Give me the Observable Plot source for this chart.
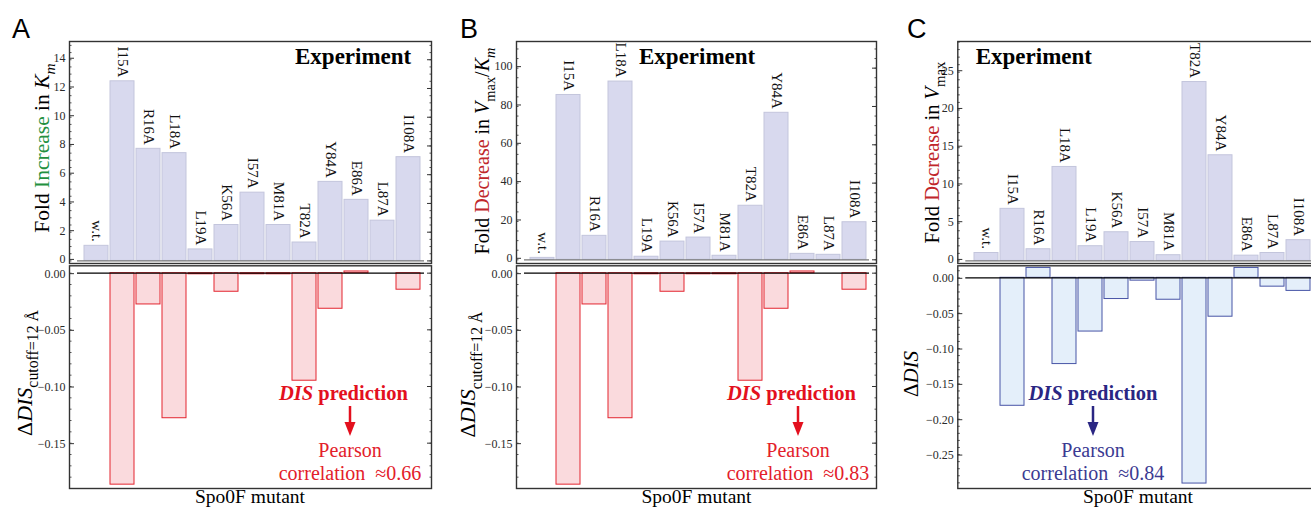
<!DOCTYPE html>
<html><head><meta charset="utf-8">
<script src="https://cdn.jsdelivr.net/npm/d3@7"></script>
<script src="https://cdn.jsdelivr.net/npm/@observablehq/plot@0.6"></script>
<style>
html,body{margin:0;padding:0;background:#fff;overflow:hidden;width:1311px;height:508px;}
#root{position:relative;width:1311px;height:508px;overflow:hidden;background:#fff;font-family:'Liberation Serif',serif;}
.layer{position:absolute;left:0;top:0;}
svg text{font-family:'Liberation Serif',serif;}
.sans{font-family:'Liberation Sans',Arial,sans-serif !important;}
</style></head><body><div id="root"></div>
<script>
// ---------- data ----------
const mutants = ["w.t.","I15A","R16A","L18A","L19A","K56A","I57A","M81A","T82A","Y84A","E86A","L87A","I108A"];
const kmIncrease     = [1.05, 12.5, 7.8, 7.5, 0.8, 2.5, 4.75, 2.5, 1.28, 5.5, 4.25, 2.8, 7.22];
const kcatKmDecrease = [1.0, 86, 12.5, 93, 1.6, 9.5, 11.6, 2.1, 28.2, 76.7, 3.1, 2.6, 19.6];
const vmaxDecrease   = [1.05, 6.9, 1.55, 12.45, 1.95, 3.8, 2.5, 0.76, 23.7, 14.0, 0.7, 1.05, 2.75];
const dDisCutoff12   = [0, -0.1866, -0.0276, -0.128, -0.001, -0.0164, -0.001, -0.001, -0.0949, -0.0314, 0.0015, 0, -0.0146];
const dDis           = [0, -0.181, 0.014, -0.122, -0.076, -0.030, -0.004, -0.031, -0.291, -0.055, 0.014, -0.0125, -0.0185];
const correlations   = ["≈0.66", "≈0.83", "≈0.84"];
const panelLetters   = ["A", "B", "C"];

// ---------- layout ----------
const W = 1400, H = 508;
const serif = "Liberation Serif";
const root = document.getElementById("root");

function subplot({frame, values, domain, major, minor, fmt, fill, stroke, labels, zeroStroke, zeroWidth, labelDy}) {
  const [l, r, t, b] = frame;
  const data = mutants.map((m, i) => ({mutant: m, value: values[i]}));
  const marks = [
    Plot.barY(data, {x: "mutant", y: "value", fill, stroke, strokeWidth: 1}),
    Plot.ruleY([0], {stroke: zeroStroke, strokeWidth: zeroWidth, insetLeft: 8, insetRight: 7}),
    Plot.axisY({ticks: minor, tickSize: -2.5, tickFormat: () => "", stroke: "#555", label: null}),
    Plot.axisY({ticks: major, tickSize: -5, tickPadding: 9, tickFormat: fmt, fontSize: 12, fontFamily: serif, fill: "#2a2a2a", stroke: "#333", label: null, dy: labelDy}),
    Plot.axisY({anchor: "right", ticks: minor, tickSize: -2.5, tickFormat: () => "", stroke: "#555", label: null}),
    Plot.axisY({anchor: "right", ticks: major, tickSize: -5, tickFormat: () => "", stroke: "#333", label: null}),
    Plot.frame({stroke: "#333", strokeWidth: 1.4})
  ];
  if (labels) marks.push(Plot.text(data, {x: "mutant", y: "value", text: "mutant", rotate: 90, textAnchor: "end", dy: -4, fontSize: 15, fontFamily: serif, fill: "#111"}));
  const svg = Plot.plot({
    width: W, height: H,
    marginLeft: l, marginRight: W - r, marginTop: t, marginBottom: H - b,
    x: {domain: mutants, axis: null, paddingInner: 0.08, paddingOuter: 0.3, align: 0.59},
    y: {domain, label: null},
    style: {background: "transparent", fontFamily: serif, maxWidth: "none", width: W + "px", overflow: "visible"},
    marks
  });
  svg.classList.add("layer");
  root.appendChild(svg);
}

const topRows = [41, 263], botRows = [265.3, 488];
const frames = [[69, 431], [516, 876], [957.3, 1322]];
const intFmt = d => String(d);
const decFmt = d3.format(".2f");
const lav = {fill: "#d8d9ee", stroke: "#c3c5dc", zeroStroke: "#777", zeroWidth: 1.2, labelDy: -1.5};
const red = {fill: "#fadadd", stroke: "#e3252f", zeroStroke: "#000", zeroWidth: 1.3, labelDy: 0.5};
const blue = {fill: "#e4effa", stroke: "#4754a6", zeroStroke: "#000", zeroWidth: 1.3, labelDy: 0.5};

const rng = (a, b, s) => d3.range(Math.round(a / s), Math.round(b / s) + 1).map(k => +(k * s).toFixed(4));

// Panel A
subplot({frame: [...frames[0], ...topRows], values: kmIncrease, domain: [-0.18, 15.27], major: rng(0, 14, 2), minor: rng(0, 15, 0.5), fmt: intFmt, labels: true, ...lav});
subplot({frame: [...frames[0], ...botRows], values: dDisCutoff12, domain: [-0.190, 0.0065], major: rng(-0.15, 0, 0.05), minor: rng(-0.19, 0, 0.01), fmt: decFmt, ...red});
// Panel B
subplot({frame: [...frames[1], ...topRows], values: kcatKmDecrease, domain: [-1.93, 113.9], major: rng(0, 100, 20), minor: rng(0, 110, 5), fmt: intFmt, labels: true, ...lav});
subplot({frame: [...frames[1], ...botRows], values: dDisCutoff12, domain: [-0.190, 0.0065], major: rng(-0.15, 0, 0.05), minor: rng(-0.19, 0, 0.01), fmt: decFmt, ...red});
// Panel C
subplot({frame: [...frames[2], ...topRows], values: vmaxDecrease, domain: [-0.34, 29.07], major: rng(0, 25, 5), minor: rng(0, 29, 1), fmt: intFmt, labels: true, ...lav});
subplot({frame: [...frames[2], ...botRows], values: dDis, domain: [-0.298, 0.017], major: rng(-0.25, 0, 0.05), minor: rng(-0.29, 0.01, 0.01), fmt: decFmt, ...blue});

// ---------- annotations ----------
const ov = d3.select(root).append("svg").attr("class", "layer").attr("width", 1311).attr("height", 508);

function rich({x, y, rotate = 0, anchor = "middle", size, parts, fill = "#000", cls = null}) {
  const t = ov.append("text")
    .attr("transform", `translate(${x},${y}) rotate(${rotate})`)
    .attr("text-anchor", anchor).attr("font-size", size).attr("fill", fill)
    .style("white-space", "pre");
  if (cls) t.attr("class", cls);
  let shift = 0;
  for (const p of parts) {
    const ts = t.append("tspan").text(p.t);
    if (p.fill) ts.attr("fill", p.fill);
    if (p.i) ts.attr("font-style", "italic");
    if (p.b) ts.attr("font-weight", "bold");
    const target = p.sub ? size * 0.3 : 0;
    if (target !== shift) { ts.attr("dy", target - shift); shift = target; }
    if (p.sub) ts.attr("font-size", size * 0.72);
  }
  return t;
}

const green = "#23903f", dred = "#c0262a";
// panel letters
[[12, 38], [460, 38], [907, 38]].forEach(([x, y], i) =>
  rich({x, y, anchor: "start", size: 27, cls: "sans", parts: [{t: panelLetters[i]}]}));

// y labels (top)
rich({x: 49, y: 148, rotate: -90, size: 21.5, parts: [{t: "Fold "}, {t: "Increase", fill: green}, {t: " in "}, {t: "K", i: true}, {t: "m", i: true, sub: true}]});
rich({x: 489, y: 151, rotate: -90, size: 20, parts: [{t: "Fold "}, {t: "Decrease", fill: dred}, {t: " in "}, {t: "V", i: true}, {t: "max", sub: true}, {t: "/"}, {t: "K", i: true}, {t: "m", i: true, sub: true}]});
rich({x: 939, y: 152.5, rotate: -90, size: 20.5, parts: [{t: "Fold "}, {t: "Decrease", fill: dred}, {t: " in "}, {t: "V", i: true}, {t: "max", sub: true}]});
// y labels (bottom)
const disSub = [{t: "Δ"}, {t: "DIS", i: true}, {t: "cutoff=12\u00a0Å", sub: true}];
rich({x: 31.5, y: 373, rotate: -90, size: 22, parts: disSub});
rich({x: 475, y: 374.5, rotate: -90, size: 22, parts: disSub});
rich({x: 918, y: 374, rotate: -90, size: 21, parts: [{t: "Δ"}, {t: "DIS", i: true}]});

// "Experiment"
[295, 639, 975.7].forEach(x => rich({x, y: 64, anchor: "start", size: 23, parts: [{t: "Experiment", b: true}]}));

// DIS prediction blocks
const annots = [
  {cx: 343.5, ax: 350, color: "#e3101e", c2: "#e3202a"},
  {cx: 791.5, ax: 798, color: "#e3101e", c2: "#e3202a"},
  {cx: 1093, ax: 1093, color: "#2a2683", c2: "#3b3a92"}
];
annots.forEach((a, i) => {
  rich({x: a.cx, y: 400, size: 20.5, fill: a.color, parts: [{t: "DIS", i: true, b: true}, {t: " prediction", b: true}]});
  ov.append("line").attr("x1", a.ax).attr("x2", a.ax).attr("y1", 406).attr("y2", 424)
    .attr("stroke", a.color).attr("stroke-width", 2.5);
  ov.append("path").attr("d", `M${a.ax - 5.5},${422}L${a.ax + 5.5},${422}L${a.ax},${436}Z`).attr("fill", a.color);
  rich({x: a.ax, y: 456.5, size: 20, fill: a.c2, parts: [{t: "Pearson"}]});
  rich({x: a.ax, y: 480, size: 20, fill: a.c2, parts: [{t: "correlation\u00a0\u00a0" + correlations[i]}]});
});

// x labels
[250, 696.5, 1138].forEach(x => rich({x, y: 503, size: 19.5, parts: [{t: "Spo0F mutant"}]}));
</script>
</body></html>
